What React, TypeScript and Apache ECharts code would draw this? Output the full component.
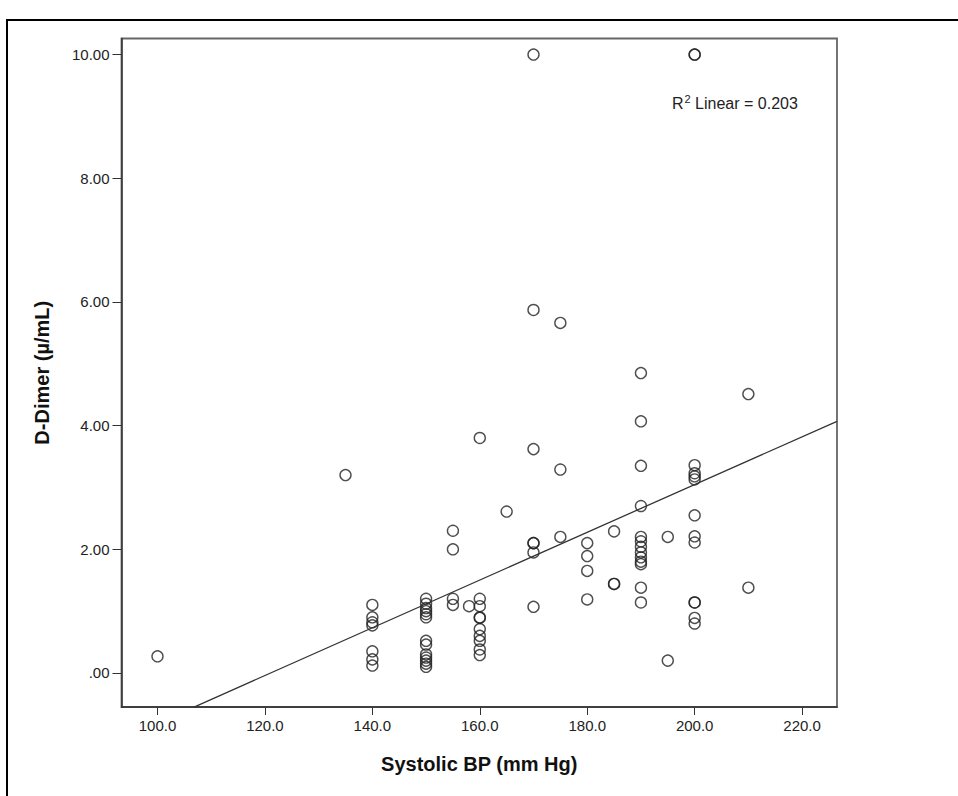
import React, { useEffect, useRef } from "react";
import * as echarts from "echarts";

// Systolic BP (x) and D-Dimer (y)
const systolicBP = [
  100,
  135,
  140, 140, 140, 140, 140, 140, 140,
  150, 150, 150, 150, 150, 150, 150, 150, 150, 150, 150, 150, 150,
  155, 155, 155, 155,
  158,
  160, 160, 160, 160, 160, 160, 160, 160, 160, 160,
  165,
  170, 170, 170, 170, 170, 170, 170,
  175, 175, 175,
  180, 180, 180, 180,
  185, 185, 185,
  190, 190, 190, 190, 190, 190, 190, 190, 190, 190, 190, 190, 190,
  195, 195,
  200, 200, 200, 200, 200, 200, 200, 200, 200, 200, 200, 200, 200,
  210, 210,
];
const dDimer = [
  0.27,
  3.2,
  1.1, 0.9, 0.82, 0.77, 0.35, 0.22, 0.12,
  1.2, 1.12, 1.05, 1.0, 0.95, 0.9, 0.52, 0.46, 0.3, 0.25, 0.2, 0.15, 0.1,
  2.3, 2.0, 1.2, 1.1,
  1.08,
  3.8, 1.2, 1.08, 0.9, 0.89, 0.71, 0.6, 0.52, 0.38, 0.29,
  2.61,
  10.0, 5.87, 3.62, 2.1, 2.1, 1.95, 1.07,
  5.66, 3.29, 2.2,
  2.1, 1.89, 1.65, 1.19,
  2.29, 1.44, 1.44,
  4.85, 4.07, 3.35, 2.7, 2.2, 2.13, 2.04, 1.95, 1.87, 1.8, 1.76, 1.38, 1.14,
  2.2, 0.2,
  10.0, 10.0, 3.36, 3.23, 3.18, 3.13, 2.55, 2.21, 2.11, 1.14, 1.14, 0.89, 0.8,
  4.51, 1.38,
];
// Linear fit line end points
const fitLineX = [106.7, 226.5];
const fitLineY = [-0.555, 4.07];
const xTicks = [100, 120, 140, 160, 180, 200, 220];
const yTicks = [0, 2, 4, 6, 8, 10];
const xRange = [93.3, 226.5];
const yRange = [-0.55, 10.26];
const r2Label = "0.203";

export default function App() {
  const ref = useRef<HTMLDivElement>(null);
  useEffect(() => {
    if (!ref.current) return;
    const chart = echarts.init(ref.current, undefined, { renderer: "svg" });
    const pts = systolicBP.map((x, i) => [x, dDimer[i]]);
    const fit = fitLineX.map((x, i) => [x, fitLineY[i]]);
    const font = "'Liberation Sans', Arial, sans-serif";
    chart.setOption({
      animation: false,
      backgroundColor: "#fff",
      grid: { left: 121.5, top: 38.5, right: 121, bottom: 89, show: true, borderColor: "#666", borderWidth: 1.8 },
      xAxis: {
        type: "value",
        min: xRange[0],
        max: xRange[1],
        name: "Systolic BP (mm Hg)",
        nameLocation: "middle",
        nameGap: 47,
        nameTextStyle: { fontFamily: font, fontSize: 20, fontWeight: "bold", color: "#111" },
        axisLine: { show: true, onZero: false, lineStyle: { color: "#333", width: 1.5 } },
        axisTick: { show: true, length: 8, customValues: xTicks, lineStyle: { color: "#333" } },
        axisLabel: {
          customValues: xTicks,
          margin: 11,
          fontFamily: font,
          fontSize: 15,
          color: "#222",
          formatter: (v: number) => v.toFixed(1),
        },
        splitLine: { show: false },
      },
      yAxis: {
        type: "value",
        min: yRange[0],
        max: yRange[1],
        name: "D-Dimer (µ/mL)",
        nameLocation: "middle",
        nameGap: 70,
        nameTextStyle: { fontFamily: font, fontSize: 20, fontWeight: "bold", color: "#111" },
        axisLine: { show: true, onZero: false, lineStyle: { color: "#333", width: 1.5 } },
        axisTick: { show: true, length: 9, customValues: yTicks, lineStyle: { color: "#333" } },
        axisLabel: {
          customValues: yTicks,
          margin: 12,
          fontFamily: font,
          fontSize: 15,
          color: "#222",
          formatter: (v: number) => (v === 0 ? ".00" : v.toFixed(2)),
        },
        splitLine: { show: false },
      },
      graphic: [
        {
          type: "rect",
          silent: true,
          shape: { x: 7, y: 20, width: 1200, height: 1000 },
          style: { fill: "none", stroke: "#000", lineWidth: 2 },
        },
        {
          type: "text",
          x: 672,
          y: 103,
          style: {
            text: "{r|R}{s|2}{r| Linear = " + r2Label + "}",
            verticalAlign: "middle",
            rich: {
              r: { fontFamily: font, fontSize: 16, fill: "#222" },
              s: { fontFamily: font, fontSize: 11, fill: "#222", verticalAlign: "top", padding: [0, 0, 8, 1] },
            },
          },
        },
      ],
      series: [
        {
          type: "line",
          data: fit,
          symbol: "none",
          clip: true,
          silent: true,
          lineStyle: { color: "#333", width: 1.3 },
        },
        {
          type: "scatter",
          data: pts,
          symbol: "circle",
          symbolSize: 11,
          itemStyle: { color: "rgba(0,0,0,0)", borderColor: "#222", borderWidth: 1.4 },
        },
      ],
    });
    return () => chart.dispose();
  }, []);
  return (
    <div
      ref={ref}
      style={{ position: "fixed", left: 0, top: 0, width: 958, height: 796, background: "#fff" }}
    />
  );
}
